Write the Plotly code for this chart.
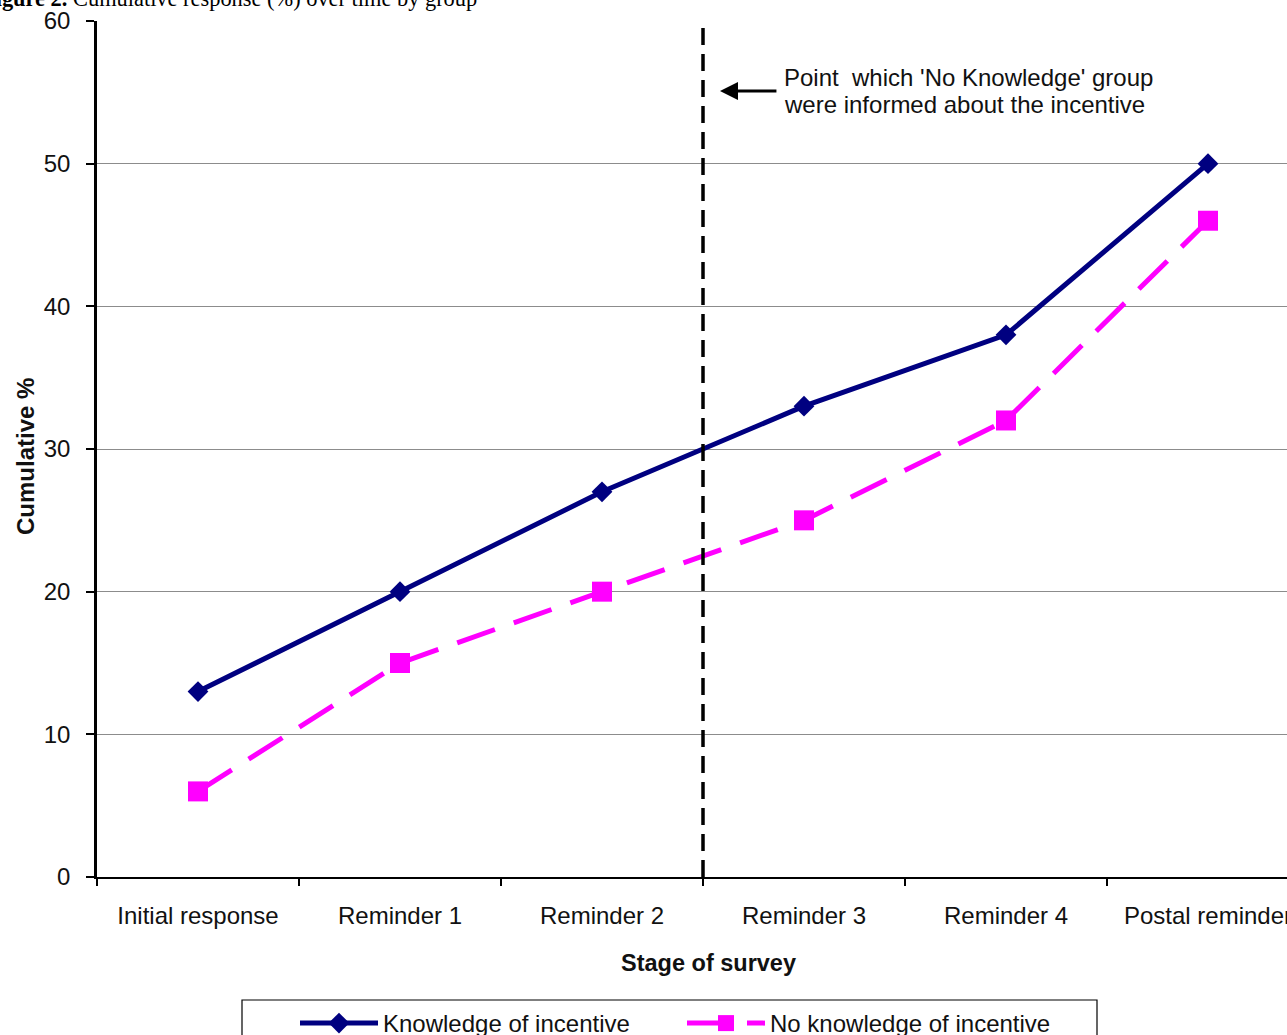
import plotly.graph_objects as go

stages = ["Initial response", "Reminder 1", "Reminder 2", "Reminder 3", "Reminder 4", "Postal reminder"]
knowledge = [13, 20, 27, 33, 38, 50]
no_knowledge = [6, 15, 20, 25, 32, 46]
y_ticks = [0, 10, 20, 30, 40, 50, 60]

FONT = "Liberation Sans, Arial, sans-serif"
W, H = 1287, 1035
ML, MR, MT, MB = 97, 0, 21, 158
PW, PH = W - ML - MR, H - MT - MB

def px_x(p):
    return (p - ML) / PW

def px_y(p):
    return (H - MB - p) / PH

fig = go.Figure()
fig.add_trace(go.Scatter(
    x=stages, y=knowledge, name="Knowledge of incentive", mode="lines+markers",
    line=dict(color="#000080", width=5),
    marker=dict(symbol="diamond", size=16, color="#000080"),
))
fig.add_trace(go.Scatter(
    x=stages, y=no_knowledge, name="No knowledge of incentive", mode="lines+markers",
    line=dict(color="#FF00FF", width=5, dash="40px,20px"),
    marker=dict(symbol="square", size=20, color="#FF00FF"),
))

# vertical dashed line between Reminder 2 and Reminder 3
fig.add_shape(type="line", xref="x", yref="y", x0=2.5, x1=2.5, y0=0, y1=60,
              line=dict(color="black", width=3.5, dash="17px,9px"), layer="above")

# arrow
fig.add_annotation(xref="x", yref="y", axref="x", ayref="y",
                   x=2.584, y=55.1, ax=2.871, ay=55.1, text="",
                   showarrow=True, arrowhead=2, arrowsize=1.2, arrowwidth=3, arrowcolor="black")
note_lines = ["Point  which 'No Knowledge' group", "were informed about the incentive"]
for txt, py in zip(note_lines, [77, 104]):
    fig.add_annotation(xref="paper", yref="paper", x=px_x(782), y=px_y(py), xanchor="left", yanchor="middle",
                       align="left", showarrow=False, text=txt,
                       font=dict(family=FONT, size=24, color="#111"))

# axis titles
fig.add_annotation(xref="paper", yref="paper", x=px_x(709), y=px_y(963), xanchor="center", yanchor="middle",
                   showarrow=False, text="<b>Stage of survey</b>",
                   font=dict(family=FONT, size=23.5, color="#111"))
fig.add_annotation(xref="paper", yref="paper", x=px_x(25), y=px_y(457), xanchor="center", yanchor="middle",
                   showarrow=False, text="<b>Cumulative %</b>", textangle=-90,
                   font=dict(family=FONT, size=24, color="#111"))

# figure caption (cut off at the top)
fig.add_annotation(xref="paper", yref="paper", x=px_x(-20), y=px_y(13), xanchor="left", yanchor="bottom",
                   showarrow=False,
                   text="<b>Figure 2.</b> Cumulative response (%) over time by group",
                   font=dict(family="Liberation Serif, Times New Roman, serif", size=22.4, color="black"))

# legend box
fig.add_shape(type="rect", xref="paper", yref="paper",
              x0=px_x(242), x1=px_x(1097), y0=px_y(1000), y1=px_y(1060),
              line=dict(color="black", width=1.2), fillcolor="rgba(0,0,0,0)")

fig.update_layout(
    width=W, height=H,
    margin=dict(l=ML, r=MR, t=MT, b=MB, autoexpand=False),
    paper_bgcolor="white", plot_bgcolor="white",
    font=dict(family=FONT, size=24, color="#111"),
    showlegend=True,
    legend=dict(orientation="h", x=px_x(295), y=px_y(1001), xanchor="left", yanchor="top",
                itemwidth=78, entrywidth=294, font=dict(family=FONT, size=24, color="#111"),
                bgcolor="rgba(0,0,0,0)", borderwidth=0),
    xaxis=dict(
        type="category", range=[-0.5, -0.5 + PW / 202.0],
        showgrid=False, showline=True, linecolor="black", linewidth=2,
        ticks="outside", tickson="boundaries", ticklen=7, tickwidth=1.5, tickcolor="black",
        ticklabelstandoff=16, tickfont=dict(family=FONT, size=24, color="#111"),
        automargin=False,
    ),
    yaxis=dict(
        range=[0, 60], tickvals=y_ticks, showgrid=True, gridcolor="#8c8c8c", gridwidth=1.2,
        zeroline=False, showline=True, linecolor="black", linewidth=2.5,
        ticks="outside", ticklen=8, tickwidth=1.5, tickcolor="black",
        ticklabelstandoff=11, tickfont=dict(family=FONT, size=24, color="#111"),
        automargin=False,
    ),
)

fig.write_html("out.html", config={"displayModeBar": False},
               post_script="document.body.style.margin='0px';document.body.style.overflow='hidden';")
